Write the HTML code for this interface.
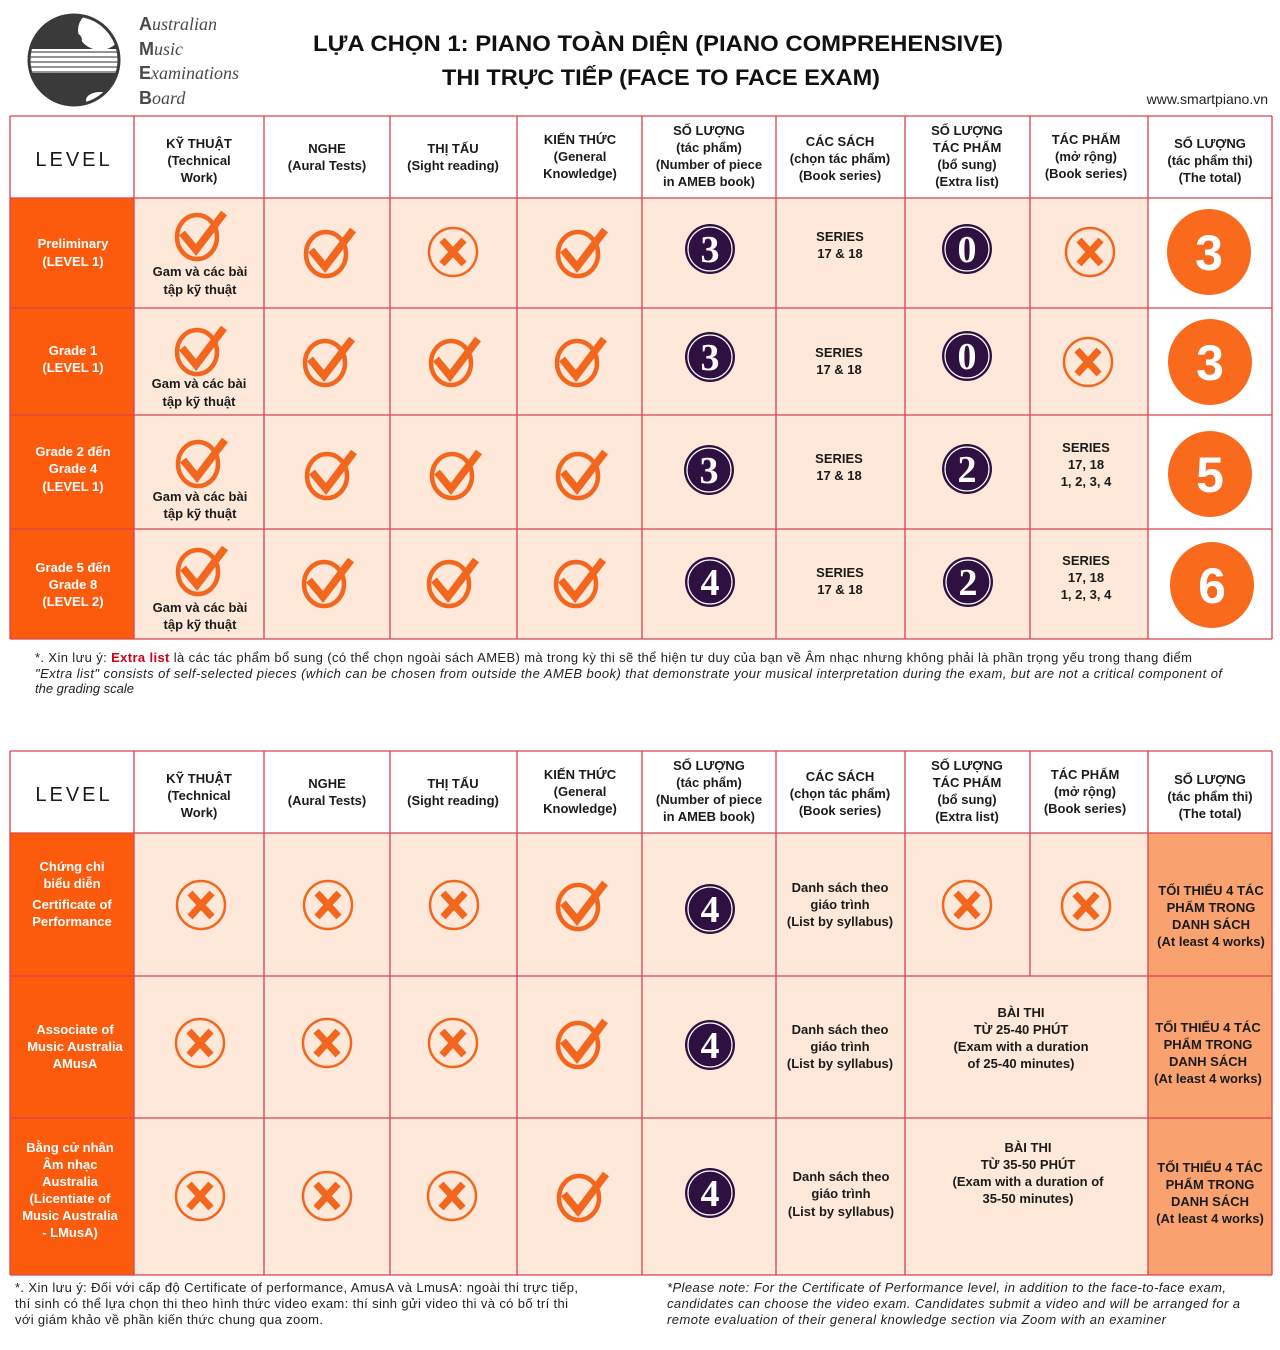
<!DOCTYPE html>
<html><head><meta charset="utf-8">
<style>
html,body{margin:0;padding:0;background:#fff;}
svg{display:block;}
</style></head>
<body>
<svg width="1280" height="1350" viewBox="0 0 1280 1350" xmlns="http://www.w3.org/2000/svg" font-family="Liberation Sans, DejaVu Sans, sans-serif">
<defs>
  <g id="chk">
    <ellipse cx="0" cy="0" rx="20" ry="22" fill="none" stroke="#F2661E" stroke-width="4.5"/>
    <path d="M-15,-4 L-1,13 L27,-24" fill="none" stroke="#F2661E" stroke-width="7.5" stroke-linejoin="miter"/>
  </g>
  <g id="xx">
    <circle cx="0" cy="0" r="24" fill="none" stroke="#F2661E" stroke-width="2.5"/>
    <path d="M-11,-12 L11,12 M11,-12 L-11,12" stroke="#F2661E" stroke-width="7"/>
  </g>
  <clipPath id="lc"><circle cx="74" cy="60" r="45"/></clipPath>
</defs>

<!-- Logo -->
<g clip-path="url(#lc)">
  <rect x="20" y="10" width="110" height="100" fill="#3a3a3a"/>
  <ellipse cx="100" cy="30" rx="22" ry="20" fill="#fff"/>
  <ellipse cx="72" cy="40" rx="10" ry="8" fill="#3a3a3a"/>
  <rect x="20" y="49" width="110" height="24" fill="#fff"/>
  <g stroke="#555" stroke-width="1.2">
    <line x1="20" y1="52" x2="130" y2="52"/><line x1="20" y1="57" x2="130" y2="57"/>
    <line x1="20" y1="62" x2="130" y2="62"/><line x1="20" y1="67" x2="130" y2="67"/>
    <line x1="20" y1="72" x2="130" y2="72"/>
  </g>
  <path d="M20,85 Q60,65 130,80 L130,110 L20,110 Z" fill="#3a3a3a"/>
  <ellipse cx="100" cy="100" rx="14" ry="8" fill="#fff"/>
</g>
<circle cx="74" cy="60" r="45" fill="none" stroke="#3a3a3a" stroke-width="3"/>
<g fill="#4a4a4a" font-size="18">
  <text x="139" y="30"><tspan font-weight="bold">A</tspan><tspan font-family="Liberation Serif, serif" font-style="italic">ustralian</tspan></text>
  <text x="139" y="55"><tspan font-weight="bold">M</tspan><tspan font-family="Liberation Serif, serif" font-style="italic">usic</tspan></text>
  <text x="139" y="79"><tspan font-weight="bold">E</tspan><tspan font-family="Liberation Serif, serif" font-style="italic">xaminations</tspan></text>
  <text x="139" y="104"><tspan font-weight="bold">B</tspan><tspan font-family="Liberation Serif, serif" font-style="italic">oard</tspan></text>
</g>

<!-- Title -->
<text x="658" y="51" text-anchor="middle" font-size="22" font-weight="bold" fill="#111" textLength="690" lengthAdjust="spacingAndGlyphs">LỰA CHỌN 1: PIANO TOÀN DIỆN (PIANO COMPREHENSIVE)</text>
<text x="661" y="85" text-anchor="middle" font-size="22" font-weight="bold" fill="#111" textLength="438" lengthAdjust="spacingAndGlyphs">THI TRỰC TIẾP (FACE TO FACE EXAM)</text>
<text x="1268" y="104" text-anchor="end" font-size="14" fill="#222">www.smartpiano.vn</text>

<!-- ===== TABLE 1 ===== -->
<rect x="10" y="116" width="1262" height="82" fill="#fff"/>
<rect x="10" y="198" width="124" height="441" fill="#FC5B0D"/>
<rect x="134" y="198" width="1014" height="441" fill="#FDE8D9"/>
<rect x="1148" y="198" width="124" height="441" fill="#fff"/>
<g stroke="#D8434F" stroke-width="1.3">
  <line x1="10" y1="116" x2="1272" y2="116"/>
  <line x1="10" y1="198" x2="1272" y2="198"/>
  <line x1="10" y1="308" x2="1272" y2="308"/>
  <line x1="10" y1="415" x2="1272" y2="415"/>
  <line x1="10" y1="529" x2="1272" y2="529"/>
  <line x1="10" y1="639" x2="1272" y2="639"/>
  <line x1="10" y1="116" x2="10" y2="639"/>
  <line x1="134" y1="116" x2="134" y2="639"/>
  <line x1="264" y1="116" x2="264" y2="639"/>
  <line x1="390" y1="116" x2="390" y2="639"/>
  <line x1="517" y1="116" x2="517" y2="639"/>
  <line x1="642" y1="116" x2="642" y2="639"/>
  <line x1="776" y1="116" x2="776" y2="639"/>
  <line x1="905" y1="116" x2="905" y2="639"/>
  <line x1="1030" y1="116" x2="1030" y2="639"/>
  <line x1="1148" y1="116" x2="1148" y2="639"/>
  <line x1="1272" y1="116" x2="1272" y2="639"/>
</g>

<!-- header 1 -->
<g font-size="13" font-weight="bold" fill="#1b1b1b" text-anchor="middle">
  <text x="74" y="166" font-size="20" font-weight="normal" letter-spacing="3">LEVEL</text>
  <text x="199" y="148">KỸ THUẬT<tspan x="199" dy="17">(Technical</tspan><tspan x="199" dy="17">Work)</tspan></text>
  <text x="327" y="153">NGHE<tspan x="327" dy="17">(Aural Tests)</tspan></text>
  <text x="453" y="153">THỊ TẤU<tspan x="453" dy="17">(Sight reading)</tspan></text>
  <text x="580" y="144">KIẾN THỨC<tspan x="580" dy="17">(General</tspan><tspan x="580" dy="17">Knowledge)</tspan></text>
  <text x="709" y="135">SỐ LƯỢNG<tspan x="709" dy="17">(tác phẩm)</tspan><tspan x="709" dy="17">(Number of piece</tspan><tspan x="709" dy="17">in AMEB book)</tspan></text>
  <text x="840" y="146">CÁC SÁCH<tspan x="840" dy="17">(chọn tác phẩm)</tspan><tspan x="840" dy="17">(Book series)</tspan></text>
  <text x="967" y="135">SỐ LƯỢNG<tspan x="967" dy="17">TÁC PHẨM</tspan><tspan x="967" dy="17">(bổ sung)</tspan><tspan x="967" dy="17">(Extra list)</tspan></text>
  <text x="1086" y="144">TÁC PHẨM<tspan x="1086" dy="17">(mở rộng)</tspan><tspan x="1086" dy="17">(Book series)</tspan></text>
  <text x="1210" y="148">SỐ LƯỢNG<tspan x="1210" dy="17">(tác phẩm thi)</tspan><tspan x="1210" dy="17">(The total)</tspan></text>
</g>

<!-- level labels table 1 -->
<g font-size="13" font-weight="bold" fill="#fff" text-anchor="middle">
  <text x="73" y="248">Preliminary<tspan x="73" dy="18">(LEVEL 1)</tspan></text>
  <text x="73" y="355">Grade 1<tspan x="73" dy="17">(LEVEL 1)</tspan></text>
  <text x="73" y="456">Grade 2 đến<tspan x="73" dy="17">Grade 4</tspan><tspan x="73" dy="18">(LEVEL 1)</tspan></text>
  <text x="73" y="572">Grade 5 đến<tspan x="73" dy="17">Grade 8</tspan><tspan x="73" dy="17">(LEVEL 2)</tspan></text>
</g>

<!-- cell texts table 1 -->
<g font-size="13" font-weight="bold" fill="#1b1b1b" text-anchor="middle">
  <text x="200" y="276">Gam và các bài<tspan x="200" dy="18">tập kỹ thuật</tspan></text>
  <text x="199" y="388">Gam và các bài<tspan x="199" dy="18">tập kỹ thuật</tspan></text>
  <text x="200" y="501">Gam và các bài<tspan x="200" dy="17">tập kỹ thuật</tspan></text>
  <text x="200" y="612">Gam và các bài<tspan x="200" dy="17">tập kỹ thuật</tspan></text>
  <text x="840" y="241">SERIES<tspan x="840" dy="17">17 &amp; 18</tspan></text>
  <text x="839" y="357">SERIES<tspan x="839" dy="17">17 &amp; 18</tspan></text>
  <text x="839" y="463">SERIES<tspan x="839" dy="17">17 &amp; 18</tspan></text>
  <text x="840" y="577">SERIES<tspan x="840" dy="17">17 &amp; 18</tspan></text>
  <text x="1086" y="452">SERIES<tspan x="1086" dy="17">17, 18</tspan><tspan x="1086" dy="17">1, 2, 3, 4</tspan></text>
  <text x="1086" y="565">SERIES<tspan x="1086" dy="17">17, 18</tspan><tspan x="1086" dy="17">1, 2, 3, 4</tspan></text>
</g>

<!-- icons table 1 -->
<use href="#chk" x="197" y="237"/>
<use href="#chk" x="326" y="254"/>
<use href="#xx" x="453" y="252"/>
<use href="#chk" x="578" y="254"/>
<use href="#xx" x="1090" y="252"/>

<use href="#chk" x="197" y="352"/>
<use href="#chk" x="325" y="363"/>
<use href="#chk" x="451" y="363"/>
<use href="#chk" x="577" y="363"/>
<use href="#xx" x="1088" y="362"/>

<use href="#chk" x="198" y="464"/>
<use href="#chk" x="327" y="476"/>
<use href="#chk" x="452" y="476"/>
<use href="#chk" x="578" y="476"/>

<use href="#chk" x="198" y="572"/>
<use href="#chk" x="324" y="584"/>
<use href="#chk" x="449" y="584"/>
<use href="#chk" x="576" y="584"/>

<!-- badges table 1 -->
<g font-family="Liberation Serif, DejaVu Serif, serif" font-weight="bold" font-size="38" fill="#fff" text-anchor="middle">
  <ellipse cx="710" cy="249" rx="25" ry="25" fill="#2E1141"/><ellipse cx="710" cy="249" rx="22" ry="22" fill="none" stroke="#fff" stroke-width="1.2"/>
  <text x="710" y="262">3</text>
  <ellipse cx="967" cy="249" rx="25" ry="25" fill="#2E1141"/><ellipse cx="967" cy="249" rx="22" ry="22" fill="none" stroke="#fff" stroke-width="1.2"/>
  <text x="967" y="262">0</text>
  <ellipse cx="710" cy="357" rx="25" ry="25" fill="#2E1141"/><ellipse cx="710" cy="357" rx="22" ry="22" fill="none" stroke="#fff" stroke-width="1.2"/>
  <text x="710" y="370">3</text>
  <ellipse cx="967" cy="356" rx="25" ry="25" fill="#2E1141"/><ellipse cx="967" cy="356" rx="22" ry="22" fill="none" stroke="#fff" stroke-width="1.2"/>
  <text x="967" y="369">0</text>
  <ellipse cx="709" cy="470" rx="25" ry="25" fill="#2E1141"/><ellipse cx="709" cy="470" rx="22" ry="22" fill="none" stroke="#fff" stroke-width="1.2"/>
  <text x="709" y="483">3</text>
  <ellipse cx="967" cy="469" rx="25" ry="25" fill="#2E1141"/><ellipse cx="967" cy="469" rx="22" ry="22" fill="none" stroke="#fff" stroke-width="1.2"/>
  <text x="967" y="482">2</text>
  <ellipse cx="710" cy="582" rx="25" ry="25" fill="#2E1141"/><ellipse cx="710" cy="582" rx="22" ry="22" fill="none" stroke="#fff" stroke-width="1.2"/>
  <text x="710" y="595">4</text>
  <ellipse cx="968" cy="582" rx="25" ry="25" fill="#2E1141"/><ellipse cx="968" cy="582" rx="22" ry="22" fill="none" stroke="#fff" stroke-width="1.2"/>
  <text x="968" y="595">2</text>
</g>

<!-- totals table 1 -->
<g font-size="50" font-weight="bold" fill="#fff" text-anchor="middle">
  <ellipse cx="1209" cy="252" rx="42" ry="43" fill="#F96A1C"/><text x="1209" y="270">3</text>
  <ellipse cx="1210" cy="362" rx="42" ry="43" fill="#F96A1C"/><text x="1210" y="380">3</text>
  <ellipse cx="1210" cy="474" rx="42" ry="43" fill="#F96A1C"/><text x="1210" y="492">5</text>
  <ellipse cx="1212" cy="585" rx="42" ry="43" fill="#F96A1C"/><text x="1212" y="603">6</text>
</g>

<!-- footnote 1 -->
<g font-size="13" fill="#222">
  <text x="35" y="662" textLength="1157" lengthAdjust="spacing">*. Xin lưu ý: <tspan fill="#D0021B" font-weight="bold">Extra list</tspan> là các tác phẩm bổ sung (có thể chọn ngoài sách AMEB) mà trong kỳ thi sẽ thể hiện tư duy của bạn về Âm nhạc nhưng không phải là phần trọng yếu trong thang điểm</text>
  <text x="35" y="678" font-style="italic" textLength="1187" lengthAdjust="spacing">"Extra list" consists of self-selected pieces (which can be chosen from outside the AMEB book) that demonstrate your musical interpretation during the exam, but are not a critical component of</text>
  <text x="35" y="693" font-style="italic">the grading scale</text>
</g>

<!-- ===== TABLE 2 ===== -->
<rect x="10" y="751" width="1262" height="82" fill="#fff"/>
<rect x="10" y="833" width="124" height="442" fill="#FC5B0D"/>
<rect x="134" y="833" width="1014" height="442" fill="#FDE8D9"/>
<rect x="1148" y="833" width="124" height="442" fill="#F9A26F"/>
<g stroke="#D8434F" stroke-width="1.3">
  <line x1="10" y1="751" x2="1272" y2="751"/>
  <line x1="10" y1="833" x2="1272" y2="833"/>
  <line x1="10" y1="976" x2="1272" y2="976"/>
  <line x1="10" y1="1118" x2="1272" y2="1118"/>
  <line x1="10" y1="1275" x2="1272" y2="1275"/>
  <line x1="10" y1="751" x2="10" y2="1275"/>
  <line x1="134" y1="751" x2="134" y2="1275"/>
  <line x1="264" y1="751" x2="264" y2="1275"/>
  <line x1="390" y1="751" x2="390" y2="1275"/>
  <line x1="517" y1="751" x2="517" y2="1275"/>
  <line x1="642" y1="751" x2="642" y2="1275"/>
  <line x1="776" y1="751" x2="776" y2="1275"/>
  <line x1="905" y1="751" x2="905" y2="1275"/>
  <line x1="1030" y1="751" x2="1030" y2="976"/>
  <line x1="1148" y1="751" x2="1148" y2="1275"/>
  <line x1="1272" y1="751" x2="1272" y2="1275"/>
</g>

<!-- header 2 -->
<g font-size="13" font-weight="bold" fill="#1b1b1b" text-anchor="middle">
  <text x="74" y="801" font-size="20" font-weight="normal" letter-spacing="3">LEVEL</text>
  <text x="199" y="783">KỸ THUẬT<tspan x="199" dy="17">(Technical</tspan><tspan x="199" dy="17">Work)</tspan></text>
  <text x="327" y="788">NGHE<tspan x="327" dy="17">(Aural Tests)</tspan></text>
  <text x="453" y="788">THỊ TẤU<tspan x="453" dy="17">(Sight reading)</tspan></text>
  <text x="580" y="779">KIẾN THỨC<tspan x="580" dy="17">(General</tspan><tspan x="580" dy="17">Knowledge)</tspan></text>
  <text x="709" y="770">SỐ LƯỢNG<tspan x="709" dy="17">(tác phẩm)</tspan><tspan x="709" dy="17">(Number of piece</tspan><tspan x="709" dy="17">in AMEB book)</tspan></text>
  <text x="840" y="781">CÁC SÁCH<tspan x="840" dy="17">(chọn tác phẩm)</tspan><tspan x="840" dy="17">(Book series)</tspan></text>
  <text x="967" y="770">SỐ LƯỢNG<tspan x="967" dy="17">TÁC PHẨM</tspan><tspan x="967" dy="17">(bổ sung)</tspan><tspan x="967" dy="17">(Extra list)</tspan></text>
  <text x="1085" y="779">TÁC PHẨM<tspan x="1085" dy="17">(mở rộng)</tspan><tspan x="1085" dy="17">(Book series)</tspan></text>
  <text x="1210" y="784">SỐ LƯỢNG<tspan x="1210" dy="17">(tác phẩm thi)</tspan><tspan x="1210" dy="17">(The total)</tspan></text>
</g>

<!-- level labels table 2 -->
<g font-size="13" font-weight="bold" fill="#fff" text-anchor="middle">
  <text x="72" y="871">Chứng chỉ<tspan x="72" dy="17">biểu diễn</tspan><tspan x="72" dy="21">Certificate of</tspan><tspan x="72" dy="17">Performance</tspan></text>
  <text x="75" y="1034">Associate of<tspan x="75" dy="17">Music Australia</tspan><tspan x="75" dy="17">AMusA</tspan></text>
  <text x="70" y="1152">Bằng cử nhân<tspan x="70" dy="17">Âm nhạc</tspan><tspan x="70" dy="17">Australia</tspan><tspan x="70" dy="17">(Licentiate of</tspan><tspan x="70" dy="17">Music Australia</tspan><tspan x="70" dy="17">- LMusA)</tspan></text>
</g>

<!-- cell texts table 2 -->
<g font-size="13" font-weight="bold" fill="#1b1b1b" text-anchor="middle">
  <text x="840" y="892">Danh sách theo<tspan x="840" dy="17">giáo trình</tspan><tspan x="840" dy="17">(List by syllabus)</tspan></text>
  <text x="840" y="1034">Danh sách theo<tspan x="840" dy="17">giáo trình</tspan><tspan x="840" dy="17">(List by syllabus)</tspan></text>
  <text x="841" y="1181">Danh sách theo<tspan x="841" dy="17">giáo trình</tspan><tspan x="841" dy="18">(List by syllabus)</tspan></text>
  <text x="1021" y="1017">BÀI THI<tspan x="1021" dy="17">TỪ 25-40 PHÚT</tspan><tspan x="1021" dy="17">(Exam with a duration</tspan><tspan x="1021" dy="17">of 25-40 minutes)</tspan></text>
  <text x="1028" y="1152">BÀI THI<tspan x="1028" dy="17">TỪ 35-50 PHÚT</tspan><tspan x="1028" dy="17">(Exam with a duration of</tspan><tspan x="1028" dy="17">35-50 minutes)</tspan></text>
  <text x="1211" y="895">TỐI THIỂU 4 TÁC<tspan x="1211" dy="17">PHẨM TRONG</tspan><tspan x="1211" dy="17">DANH SÁCH</tspan><tspan x="1211" dy="17">(At least 4 works)</tspan></text>
  <text x="1208" y="1032">TỐI THIỂU 4 TÁC<tspan x="1208" dy="17">PHẨM TRONG</tspan><tspan x="1208" dy="17">DANH SÁCH</tspan><tspan x="1208" dy="17">(At least 4 works)</tspan></text>
  <text x="1210" y="1172">TỐI THIỂU 4 TÁC<tspan x="1210" dy="17">PHẨM TRONG</tspan><tspan x="1210" dy="17">DANH SÁCH</tspan><tspan x="1210" dy="17">(At least 4 works)</tspan></text>
</g>

<!-- icons table 2 -->
<use href="#xx" x="201" y="905"/>
<use href="#xx" x="328" y="905"/>
<use href="#xx" x="454" y="905"/>
<use href="#chk" x="578" y="907"/>
<use href="#xx" x="967" y="905"/>
<use href="#xx" x="1086" y="906"/>

<use href="#xx" x="200" y="1043"/>
<use href="#xx" x="327" y="1043"/>
<use href="#xx" x="453" y="1043"/>
<use href="#chk" x="578" y="1045"/>

<use href="#xx" x="200" y="1196"/>
<use href="#xx" x="327" y="1196"/>
<use href="#xx" x="452" y="1196"/>
<use href="#chk" x="579" y="1198"/>

<g font-family="Liberation Serif, DejaVu Serif, serif" font-weight="bold" font-size="38" fill="#fff" text-anchor="middle">
  <ellipse cx="710" cy="909" rx="25" ry="25" fill="#2E1141"/><ellipse cx="710" cy="909" rx="22" ry="22" fill="none" stroke="#fff" stroke-width="1.2"/>
  <text x="710" y="922">4</text>
  <ellipse cx="710" cy="1045" rx="25" ry="25" fill="#2E1141"/><ellipse cx="710" cy="1045" rx="22" ry="22" fill="none" stroke="#fff" stroke-width="1.2"/>
  <text x="710" y="1058">4</text>
  <ellipse cx="710" cy="1193" rx="25" ry="25" fill="#2E1141"/><ellipse cx="710" cy="1193" rx="22" ry="22" fill="none" stroke="#fff" stroke-width="1.2"/>
  <text x="710" y="1206">4</text>
</g>

<!-- bottom notes -->
<g font-size="13" fill="#222">
  <text x="15" y="1292" textLength="563" lengthAdjust="spacing">*. Xin lưu ý: Đối với cấp độ Certificate of performance, AmusA và LmusA: ngoài thi trực tiếp,</text>
  <text x="15" y="1308" textLength="553" lengthAdjust="spacing">thí sinh có thể lựa chọn thi theo hình thức video exam: thí sinh gửi video thi và có bố trí thi</text>
  <text x="15" y="1324" textLength="308" lengthAdjust="spacing">với giám khảo về phần kiến thức chung qua zoom.</text>
  <text x="667" y="1292" font-style="italic" textLength="559" lengthAdjust="spacing">*Please note: For the Certificate of Performance level, in addition to the face-to-face exam,</text>
  <text x="667" y="1308" font-style="italic" textLength="573" lengthAdjust="spacing">candidates can choose the video exam. Candidates submit a video and will be arranged for a</text>
  <text x="667" y="1324" font-style="italic" textLength="499" lengthAdjust="spacing">remote evaluation of their general knowledge section via Zoom with an examiner</text>
</g>
</svg>
</body></html>
